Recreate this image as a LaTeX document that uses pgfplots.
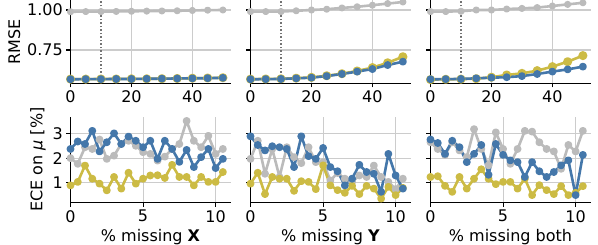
\documentclass[border=0pt]{standalone}
\usepackage{fontspec}
\setmainfont{DejaVu Sans}
\usepackage{pgfplots}
\usepackage{pgfplotstable}
\pgfplotsset{compat=1.18}
\definecolor{cblue}{HTML}{4477AA}
\definecolor{cyel}{HTML}{CCBB44}
\definecolor{cgray}{HTML}{BBBBBB}

\pgfplotstableread{
x g b y
0  0.989 0.567 0.568
5  0.990 0.568 0.568
10 0.990 0.568 0.569
15 0.991 0.569 0.569
20 0.992 0.569 0.570
25 0.993 0.570 0.570
30 0.994 0.571 0.571
35 0.995 0.572 0.572
40 0.997 0.573 0.574
45 0.999 0.574 0.575
50 1.000 0.576 0.577
}\topA
\pgfplotstableread{
x g b y
0  0.990 0.567 0.568
5  0.990 0.568 0.569
10 0.990 0.569 0.570
15 0.995 0.573 0.574
20 1.000 0.577 0.579
25 1.005 0.587 0.589
30 1.013 0.600 0.602
35 1.020 0.615 0.619
40 1.030 0.631 0.640
45 1.040 0.656 0.670
50 1.050 0.677 0.708
}\topB
\pgfplotstableread{
x g b y
0  0.990 0.567 0.565
5  0.990 0.568 0.567
10 0.992 0.569 0.568
15 1.000 0.573 0.571
20 1.000 0.577 0.580
25 1.006 0.580 0.594
30 1.010 0.587 0.604
35 1.015 0.600 0.621
40 1.025 0.615 0.646
45 1.035 0.629 0.677
50 1.045 0.646 0.715
}\topC

\pgfplotstableread{
x g b y
0.0  2.00 2.37 0.90
0.5  1.77 2.67 1.04
1.0  2.44 2.57 1.70
1.5  2.37 3.10 1.17
2.0  2.75 2.27 0.97
2.5  1.97 2.64 0.70
3.0  2.10 3.00 1.24
3.5  2.57 2.57 0.77
4.0  2.70 2.87 1.41
4.5  2.50 2.70 0.97
5.0  2.24 2.44 1.17
5.5  2.17 2.70 1.30
6.0  1.90 1.97 1.31
6.5  2.06 2.70 1.20
7.0  2.37 2.37 1.73
7.5  2.57 1.85 1.24
8.0  3.50 2.33 1.24
8.5  2.70 1.64 0.90
9.0  2.44 2.04 1.24
9.5  2.90 2.37 1.04
10.0 2.17 1.60 1.04
10.5 2.37 1.97 1.44
}\botA
\pgfplotstableread{
x g b y
0.0  1.97 2.88 0.97
0.5  2.70 2.53 1.41
1.0  1.37 2.31 0.55
1.5  2.37 2.48 1.24
2.0  1.24 2.44 1.17
2.5  2.44 2.37 1.17
3.0  2.04 1.64 0.68
3.5  1.80 2.88 1.07
4.0  2.44 2.08 1.04
4.5  1.84 1.97 0.75
5.0  1.84 2.41 1.71
5.5  1.10 1.64 0.90
6.0  1.40 1.47 0.71
6.5  1.17 0.90 0.60
7.0  1.04 1.17 0.88
7.5  1.30 1.73 0.55
8.0  1.24 1.44 0.88
8.5  1.70 1.37 0.77
9.0  1.24 0.64 0.37
9.5  1.04 2.17 0.84
10.0 0.75 1.30 0.51
10.5 1.17 0.77 0.80
}\botB
\pgfplotstableread{
x g b y
0.0  2.64 2.75 1.24
0.5  2.37 2.61 1.27
1.0  2.13 2.17 0.88
1.5  2.64 2.70 0.64
2.0  2.31 2.44 1.24
2.5  2.04 1.84 0.77
3.0  3.17 2.17 1.17
3.5  2.37 2.53 1.55
4.0  1.71 1.33 1.17
4.5  3.04 2.57 0.95
5.0  2.37 2.13 1.04
5.5  1.77 1.91 1.04
6.0  2.37 1.84 0.77
6.5  3.10 1.24 1.17
7.0  3.07 1.84 0.51
7.5  2.64 1.47 0.91
8.0  2.37 1.24 0.71
8.5  2.27 1.44 0.55
9.0  1.57 1.71 0.87
9.5  2.53 1.91 0.51
10.0 2.27 0.51 0.60
10.5 3.10 2.13 0.87
}\botC

\tikzset{vline/.style={dash pattern=on 1.3pt off 2.2pt, line width=1.3pt, black!55}}
\pgfplotsset{
  base/.style={
    scale only axis, width=160pt,
    anchor=south west,
    xmin=0,
    axis x line*=bottom, axis y line*=left,
    axis line style={line width=1.07pt, color=black},
    tick style={line width=1.07pt, color=black},
    tick align=outside, major tick length=4.2pt,
    grid=major, grid style={line width=1.07pt, color=black!20},
    font=\fontsize{16}{19}\selectfont,
    ticklabel style={font=\fontsize{16}{19}\selectfont},
    /pgf/number format/assume math mode=true,
    every axis plot/.append style={line width=2.6pt, mark=*, line join=round},
  },
  toprow/.style={base, height=83.3pt, xmax=52.5, ymin=0.542, ymax=1.0625,
    xtick={0,20,40}, ytick={0.75,1.00},
    yticklabel style={/pgf/number format/.cd, fixed, fixed zerofill, precision=2}},
  botrow/.style={base, height=85.5pt, xmax=11.025, ymin=0.21, ymax=3.66,
    xtick={0,5,10}, ytick={1,2,3}},
  pg/.style={cgray, mark size=2.2pt},
  py/.style={cyel, mark size=3.2pt},
  pb/.style={cblue, mark size=2.6pt},
  pgb/.style={cgray, mark size=2.6pt},
  pyb/.style={cyel, mark size=2.6pt},
  pbb/.style={cblue, mark size=2.6pt},
}

\begin{document}
\begin{tikzpicture}
% top row
\begin{axis}[toprow, at={(70.5pt,161.7pt)}, ylabel={RMSE}]
  \draw[vline] (axis cs:10,0.542) -- (axis cs:10,1.0625);
  \addplot[pg] table[x=x,y=g] {\topA};
  \addplot[py] table[x=x,y=y] {\topA};
  \addplot[pb] table[x=x,y=b] {\topA};
\end{axis}
\begin{axis}[toprow, at={(250.5pt,161.7pt)}, yticklabels={}]
  \draw[vline] (axis cs:10,0.542) -- (axis cs:10,1.0625);
  \addplot[pg] table[x=x,y=g] {\topB};
  \addplot[py] table[x=x,y=y] {\topB};
  \addplot[pb] table[x=x,y=b] {\topB};
\end{axis}
\begin{axis}[toprow, at={(430.5pt,161.7pt)}, yticklabels={}]
  \draw[vline] (axis cs:10,0.542) -- (axis cs:10,1.0625);
  \addplot[pg] table[x=x,y=g] {\topC};
  \addplot[py] table[x=x,y=y] {\topC};
  \addplot[pb] table[x=x,y=b] {\topC};
\end{axis}
% bottom row
\begin{axis}[botrow, at={(70.5pt,42.5pt)}, ylabel={ECE on {\itshape μ} [\%]},
    xlabel={\% missing \textbf{X}}]
  \addplot[pgb] table[x=x,y=g] {\botA};
  \addplot[pyb] table[x=x,y=y] {\botA};
  \addplot[pbb] table[x=x,y=b] {\botA};
\end{axis}
\begin{axis}[botrow, at={(250.5pt,42.5pt)}, yticklabels={},
    xlabel={\% missing \textbf{Y}}]
  \addplot[pgb] table[x=x,y=g] {\botB};
  \addplot[pyb] table[x=x,y=y] {\botB};
  \addplot[pbb] table[x=x,y=b] {\botB};
\end{axis}
\begin{axis}[botrow, at={(430.5pt,42.5pt)}, yticklabels={},
    xlabel={\% missing both}]
  \addplot[pgb] table[x=x,y=g] {\botC};
  \addplot[pyb] table[x=x,y=y] {\botC};
  \addplot[pbb] table[x=x,y=b] {\botC};
\end{axis}
\pgfresetboundingbox
\useasboundingbox (0,0) rectangle (598pt,245pt);
\end{tikzpicture}
\end{document}
